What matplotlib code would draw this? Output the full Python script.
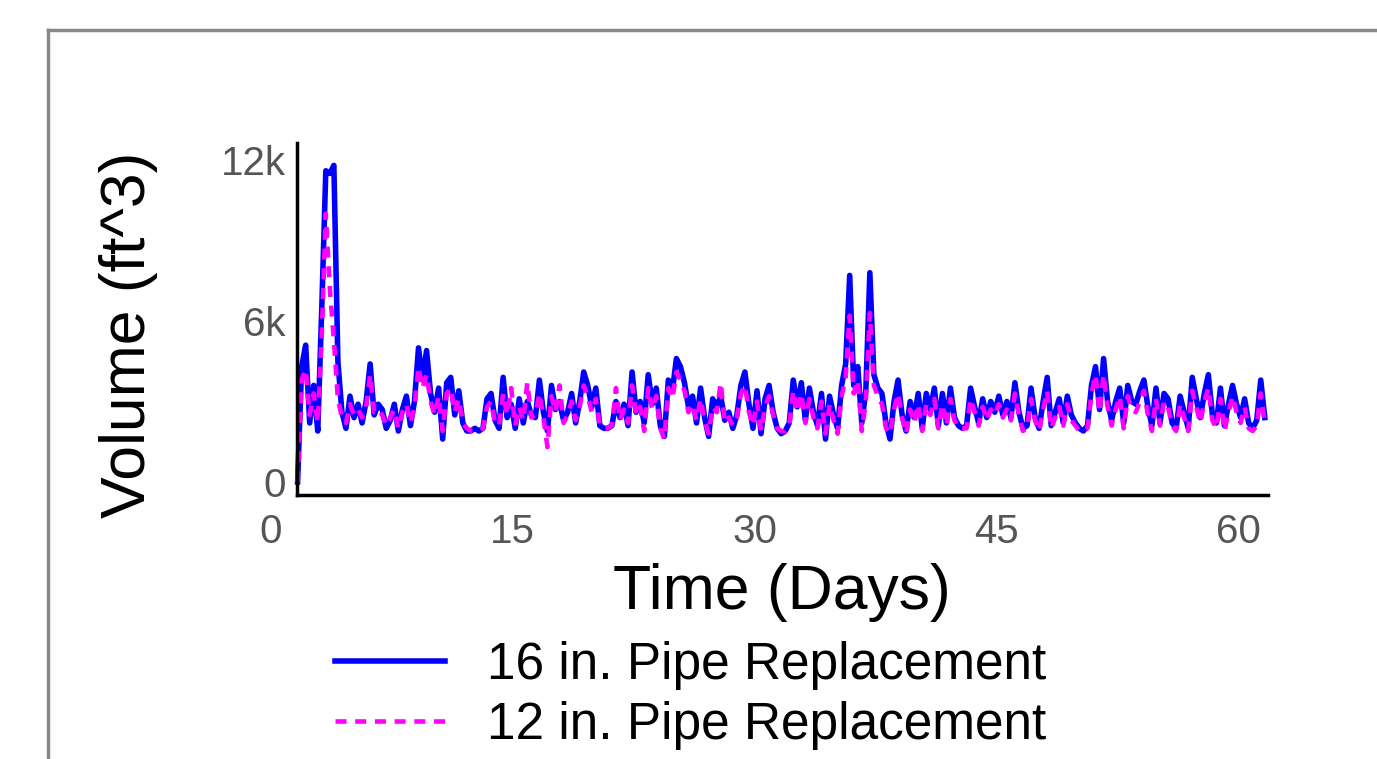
import numpy as np
import matplotlib
matplotlib.use("Agg")
import matplotlib.pyplot as plt
from matplotlib.lines import Line2D

plt.rcParams['font.family'] = ['Liberation Sans', 'DejaVu Sans']

# time axis: samples every 6 hours starting at day 1.65
t_start = 1.65
t_step = 0.25

# volume in thousands of ft^3
vol_16in = [
    0.0, 4.3, 5.1, 2.2, 3.6, 1.9, 6.5, 11.6, 11.5, 11.8,
    4.5, 2.6, 2.0, 3.2, 2.4, 2.9, 2.2, 3.0, 4.4, 2.5,
    2.9, 2.7, 2.0, 2.3, 2.9, 1.9, 2.7, 3.2, 2.1, 3.0,
    5.0, 3.8, 4.9, 3.3, 2.6, 3.5, 1.6, 3.7, 3.9, 2.5,
    3.4, 2.2, 1.9, 1.9, 2.0, 1.9, 2.0, 3.1, 3.3, 2.3,
    2.0, 3.9, 2.4, 2.9, 2.0, 3.1, 2.2, 3.0, 2.5, 2.4,
    3.8, 2.6, 1.9, 3.6, 2.7, 3.0, 2.3, 2.6, 3.3, 2.2,
    3.0, 4.1, 3.6, 2.8, 3.5, 2.1, 2.0, 2.0, 2.1, 3.0,
    2.4, 2.9, 2.1, 4.1, 2.6, 3.0, 2.2, 4.0, 2.9, 3.5,
    2.1, 1.7, 3.8, 3.4, 4.6, 4.3, 3.7, 2.8, 3.2, 2.2,
    3.5, 2.4, 1.7, 3.1, 2.8, 3.2, 2.3, 2.6, 2.0, 2.5,
    3.6, 4.1, 2.9, 2.0, 3.4, 1.8, 3.1, 3.6, 2.6, 2.0,
    1.8, 1.9, 2.2, 3.8, 2.8, 3.7, 2.3, 3.5, 2.6, 2.1,
    3.3, 1.6, 3.2, 2.5, 2.0, 3.6, 4.4, 7.7, 3.6, 4.3,
    2.2, 3.4, 7.8, 4.0, 3.5, 3.3, 2.2, 1.6, 3.0, 3.8,
    2.5, 1.9, 3.0, 2.4, 3.3, 2.0, 3.3, 2.7, 3.5, 2.1,
    3.3, 2.2, 3.5, 2.4, 2.1, 2.0, 2.1, 3.5, 2.8, 2.2,
    3.1, 2.4, 3.0, 2.6, 3.2, 2.5, 3.0, 2.4, 3.7, 2.6,
    2.0, 2.1, 3.5, 2.4, 2.0, 3.0, 3.9, 2.1, 2.6, 3.1,
    2.2, 3.2, 2.5, 2.2, 2.0, 1.9, 2.1, 3.6, 4.3, 2.7,
    4.6, 3.0, 2.3, 3.0, 3.5, 2.2, 3.6, 3.0, 2.9, 3.4,
    3.8, 2.8, 2.1, 3.5, 2.2, 3.3, 3.1, 2.2, 2.0, 3.2,
    2.6, 2.0, 3.9, 3.1, 2.4, 3.3, 4.0, 2.5, 2.2, 3.5,
    2.1, 2.9, 3.6, 2.9, 2.4, 3.1, 2.2, 2.0, 2.3, 3.8,
    2.4,
]

vol_12in = [
    0.0, 3.8, 4.2, 2.5, 3.3, 2.2, 5.5, 10.0, 7.2, 5.3,
    3.1, 2.4, 2.2, 2.9, 2.5, 2.7, 2.4, 2.8, 4.0, 2.6,
    2.7, 2.5, 2.1, 2.4, 2.7, 2.0, 2.6, 2.9, 2.2, 2.8,
    4.3, 3.5, 4.0, 3.0, 2.5, 3.2, 1.9, 3.3, 3.5, 2.6,
    3.1, 2.2, 2.0, 1.9, 1.9, 1.9, 2.0, 2.8, 3.0, 2.2,
    2.1, 3.3, 2.5, 3.5, 2.1, 2.8, 2.3, 3.7, 2.4, 2.5,
    3.3, 2.4, 1.3, 3.2, 2.6, 3.6, 2.2, 2.5, 3.0, 2.3,
    2.8, 3.6, 3.2, 2.6, 3.1, 2.1, 2.0, 2.0, 2.1, 3.5,
    2.3, 2.7, 2.2, 3.6, 2.5, 2.8, 1.9, 3.5, 2.7, 3.2,
    2.0, 1.6, 3.5, 3.1, 4.1, 3.8, 3.4, 2.6, 2.9, 2.3,
    3.1, 2.3, 1.8, 2.8, 2.6, 3.7, 2.2, 2.4, 2.1, 2.4,
    3.3, 3.6, 2.6, 2.1, 3.0, 1.9, 2.8, 3.2, 2.5, 2.0,
    1.9, 1.9, 2.1, 3.4, 2.6, 3.3, 2.2, 3.1, 2.4, 2.0,
    3.0, 1.8, 2.9, 2.3, 1.8, 3.2, 3.9, 6.2, 3.3, 3.8,
    1.9, 3.0, 6.3, 3.6, 3.2, 2.9, 2.0, 1.8, 2.7, 3.3,
    2.4, 1.8, 2.7, 2.2, 2.9, 1.9, 2.9, 2.5, 3.1, 2.0,
    2.9, 2.1, 3.1, 2.3, 2.0, 2.0, 2.0, 3.1, 2.6, 2.1,
    2.8, 2.3, 2.7, 2.5, 2.9, 2.4, 2.7, 2.3, 3.3, 2.5,
    1.9, 2.0, 3.1, 2.3, 1.9, 2.7, 3.4, 2.0, 2.4, 2.8,
    2.1, 2.9, 2.3, 2.1, 1.9, 1.9, 2.0, 3.3, 4.0, 2.6,
    4.0, 2.8, 2.1, 2.7, 3.2, 2.0, 3.2, 2.7, 2.6, 3.0,
    3.4, 2.5, 1.9, 3.1, 2.1, 3.0, 2.8, 2.1, 1.9, 2.9,
    2.4, 1.9, 3.4, 2.8, 2.2, 3.0, 3.5, 2.3, 2.0, 3.1,
    1.9, 2.6, 3.2, 2.6, 2.2, 2.8, 2.0, 1.9, 2.1, 3.3,
    2.2,
]

x_ticks = [0, 15, 30, 45, 60]
y_ticks = [0, 6000, 12000]
y_tick_labels = ['0', '6k', '12k']

days = t_start + t_step * np.arange(len(vol_16in))
v16 = np.array(vol_16in) * 1000
v12 = np.array(vol_12in) * 1000

W, H = 1377, 759
fig = plt.figure(figsize=(W / 100, H / 100), dpi=100)

# gray outer frame (left and top edges only visible)
fig.add_artist(Line2D([48 / W, 48 / W], [0, 1 - 30 / H], color='#888888', lw=2.5))
fig.add_artist(Line2D([48 / W, 1], [1 - 30 / H, 1 - 30 / H], color='#888888', lw=2.5))

ax = fig.add_axes([271 / W, 1 - 495 / H, (1268 - 271) / W, (495 - 143) / H])
ax.plot(days, v16, color='#0000ff', lw=4.0, label='16 in. Pipe Replacement')
ax.plot(days, v12, color='#ff00ff', lw=3.3, linestyle=(0, (2.4, 1.9)),
        label='12 in. Pipe Replacement')

x0 = 1.61
ax.set_xlim(0, 61.85)
ax.set_ylim(-485, 12635)
ax.spines['top'].set_visible(False)
ax.spines['right'].set_visible(False)
ax.spines['left'].set_position(('data', x0))
ax.spines['bottom'].set_bounds(x0, 61.85)
for s in ('left', 'bottom'):
    ax.spines[s].set_linewidth(2.5)
    ax.spines[s].set_color('black')

ax.set_xticks(x_ticks)
ax.set_yticks(y_ticks)
ax.set_yticklabels(y_tick_labels)
ax.tick_params(axis='both', length=0, labelsize=29, labelcolor='#555555')
ax.tick_params(axis='x', pad=13)
ax.tick_params(axis='y', pad=8)

fig.text(782 / W, 1 - 593 / H, 'Time (Days)', fontsize=45,
         ha='center', va='center')
fig.text(128 / W, 1 - 335 / H, 'Volume (ft^3)', fontsize=45, rotation=90,
         ha='center', va='center')

fig.legend(loc='upper left', bbox_to_anchor=(335 / W, 1 - 641 / H),
           frameon=False, fontsize=37, handlelength=2.15, handletextpad=0.8,
           labelspacing=0.22, borderpad=0, borderaxespad=0)

fig.savefig('out.png', dpi=100)
